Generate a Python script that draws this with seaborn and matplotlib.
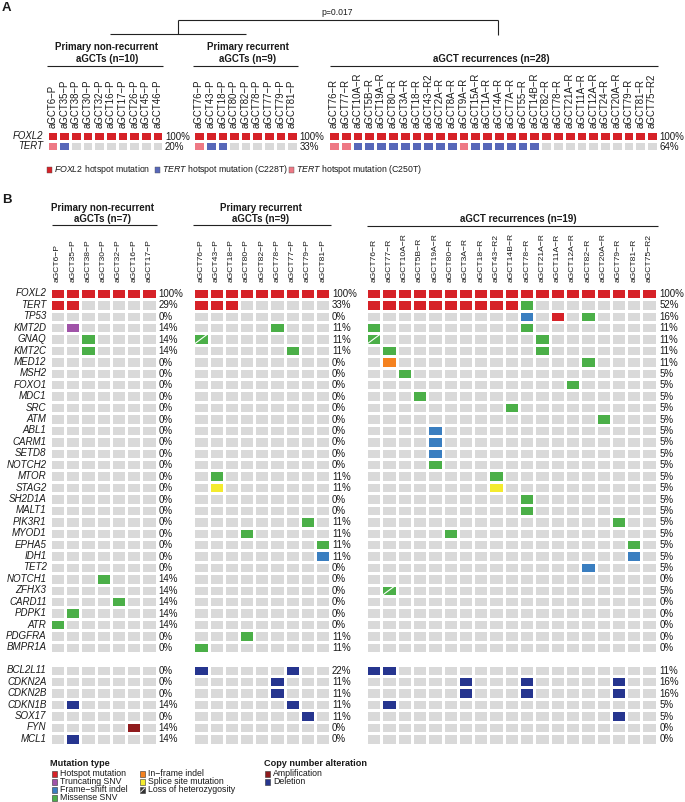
import numpy as np
import pandas as pd
import matplotlib
matplotlib.use('Agg')
import matplotlib.pyplot as plt
from matplotlib.colors import ListedColormap
from matplotlib.patches import Rectangle
import seaborn as sns

W, H = 685, 802

# ---------------- panel A data ----------------
a_genes = ['FOXL2', 'TERT']
a_nonrec_samples = ['aGCT6-P', 'aGCT35-P', 'aGCT38-P', 'aGCT30-P', 'aGCT32-P',
                    'aGCT16-P', 'aGCT17-P', 'aGCT26-P', 'aGCT45-P', 'aGCT46-P']
a_prim_samples = ['aGCT76-P', 'aGCT43-P', 'aGCT18-P', 'aGCT80-P', 'aGCT82-P',
                  'aGCT78-P', 'aGCT77-P', 'aGCT79-P', 'aGCT81-P']
a_rec_samples = ['aGCT76-R', 'aGCT77-R', 'aGCT10A-R', 'aGCT5B-R', 'aGCT19A-R',
                 'aGCT80-R', 'aGCT3A-R', 'aGCT18-R', 'aGCT43-R2', 'aGCT2A-R',
                 'aGCT8A-R', 'aGCT9A-R', 'aGCT15A-R', 'aGCT1A-R', 'aGCT4A-R',
                 'aGCT7A-R', 'aGCT55-R', 'aGCT14B-R', 'aGCT82-R', 'aGCT78-R',
                 'aGCT21A-R', 'aGCT11A-R', 'aGCT12A-R', 'aGCT24-R', 'aGCT20A-R',
                 'aGCT79-R', 'aGCT81-R', 'aGCT75-R2']
# H = hotspot, B = TERT C228T, P = TERT C250T
a_nonrec_calls = {'FOXL2': 'H' * 10, 'TERT': 'PB'}
a_prim_calls = {'FOXL2': 'H' * 9, 'TERT': 'PBB'}
a_rec_calls = {'FOXL2': 'H' * 28, 'TERT': 'PP' + 'B' * 9 + 'P' + 'B' * 6}
a_nonrec_pct = [100, 20]
a_prim_pct = [100, 33]
a_rec_pct = [100, 64]

# ---------------- panel B data ----------------
b_genes = ['FOXL2', 'TERT', 'TP53', 'KMT2D', 'GNAQ', 'KMT2C', 'MED12', 'MSH2',
           'FOXO1', 'MDC1', 'SRC', 'ATM', 'ABL1', 'CARM1', 'SETD8', 'NOTCH2',
           'MTOR', 'STAG2', 'SH2D1A', 'MALT1', 'PIK3R1', 'MYOD1', 'EPHA5', 'IDH1',
           'TET2', 'NOTCH1', 'ZFHX3', 'CARD11', 'PDPK1', 'ATR', 'PDGFRA', 'BMPR1A',
           '',
           'BCL2L11', 'CDKN2A', 'CDKN2B', 'CDKN1B', 'SOX17', 'FYN', 'MCL1']
b_nonrec_samples = ['aGCT6-P', 'aGCT35-P', 'aGCT38-P', 'aGCT30-P', 'aGCT32-P',
                    'aGCT16-P', 'aGCT17-P']
b_prim_samples = a_prim_samples
b_rec_samples = ['aGCT76-R', 'aGCT77-R', 'aGCT10A-R', 'aGCT5B-R', 'aGCT19A-R',
                 'aGCT80-R', 'aGCT3A-R', 'aGCT18-R', 'aGCT43-R2', 'aGCT14B-R',
                 'aGCT78-R', 'aGCT21A-R', 'aGCT11A-R', 'aGCT12A-R', 'aGCT82-R',
                 'aGCT20A-R', 'aGCT79-R', 'aGCT81-R', 'aGCT75-R2']

# T truncating, F frame-shift, M missense, I in-frame, S splice,
# L missense + LOH, A amplification, D deletion   {column: type}
b_nonrec_calls = {
    'FOXL2': 'H' * 7, 'TERT': 'HH',
    'KMT2D': {1: 'T'}, 'GNAQ': {2: 'M'}, 'KMT2C': {2: 'M'},
    'NOTCH1': {3: 'M'}, 'CARD11': {4: 'M'}, 'PDPK1': {1: 'M'}, 'ATR': {0: 'M'},
    'CDKN1B': {1: 'D'}, 'FYN': {5: 'A'}, 'MCL1': {1: 'D'},
}
b_prim_calls = {
    'FOXL2': 'H' * 9, 'TERT': 'HHH',
    'KMT2D': {5: 'M'}, 'GNAQ': {0: 'L'}, 'KMT2C': {6: 'M'},
    'MTOR': {1: 'M'}, 'STAG2': {1: 'S'}, 'PIK3R1': {7: 'M'}, 'MYOD1': {3: 'M'},
    'EPHA5': {8: 'M'}, 'IDH1': {8: 'F'}, 'PDGFRA': {3: 'M'}, 'BMPR1A': {0: 'M'},
    'BCL2L11': {0: 'D', 6: 'D'}, 'CDKN2A': {5: 'D'}, 'CDKN2B': {5: 'D'},
    'CDKN1B': {6: 'D'}, 'SOX17': {7: 'D'},
}
b_rec_calls = {
    'FOXL2': 'H' * 19, 'TERT': 'H' * 10 + 'M',
    'TP53': {10: 'F', 12: 'H', 14: 'M'}, 'KMT2D': {0: 'M', 10: 'M'},
    'GNAQ': {0: 'L', 11: 'M'}, 'KMT2C': {1: 'M', 11: 'M'},
    'MED12': {1: 'I', 14: 'M'}, 'MSH2': {2: 'M'}, 'FOXO1': {13: 'M'},
    'MDC1': {3: 'M'}, 'SRC': {9: 'M'}, 'ATM': {15: 'M'},
    'ABL1': {4: 'F'}, 'CARM1': {4: 'F'}, 'SETD8': {4: 'F'}, 'NOTCH2': {4: 'M'},
    'MTOR': {8: 'M'}, 'STAG2': {8: 'S'}, 'SH2D1A': {10: 'M'}, 'MALT1': {10: 'M'},
    'PIK3R1': {16: 'M'}, 'MYOD1': {5: 'M'}, 'EPHA5': {17: 'M'}, 'IDH1': {17: 'F'},
    'TET2': {14: 'F'}, 'ZFHX3': {1: 'L'},
    'BCL2L11': {0: 'D', 1: 'D'}, 'CDKN2A': {6: 'D', 10: 'D', 16: 'D'},
    'CDKN2B': {6: 'D', 10: 'D', 16: 'D'}, 'CDKN1B': {1: 'D'}, 'SOX17': {16: 'D'},
}
b_nonrec_pct = [100, 29, 0, 14, 14, 14, 0, 0, 0, 0, 0, 0, 0, 0, 0, 0, 0, 0, 0, 0,
                0, 0, 0, 0, 0, 14, 14, 14, 14, 14, 0, 0,
                0, 0, 0, 14, 0, 14, 14]
b_prim_pct = [100, 33, 0, 11, 11, 11, 0, 0, 0, 0, 0, 0, 0, 0, 0, 0, 11, 11, 0, 0,
              11, 11, 11, 11, 0, 0, 0, 0, 0, 0, 11, 11,
              22, 11, 11, 11, 11, 0, 0]
b_rec_pct = [100, 52, 16, 11, 11, 11, 11, 5, 5, 5, 5, 5, 5, 5, 5, 5, 5, 5, 5, 5,
             5, 5, 5, 5, 5, 0, 5, 0, 0, 0, 0, 0,
             11, 16, 16, 5, 5, 0, 0]

# ---------------- style ----------------
codes = {'.': 0, 'H': 1, 'T': 2, 'F': 3, 'M': 4, 'I': 5, 'S': 6, 'A': 7,
         'D': 8, 'B': 9, 'P': 10, 'L': 4}
colors = ['#D9D9D9', '#D62228', '#A053A8', '#3A7EC0', '#4BAF48', '#F58220',
          '#F4EB2E', '#8F1B1D', '#26358F', '#5767B9', '#EE7985']
cmap = ListedColormap(colors)

sns.set_theme(style='white')
plt.rcParams['font.family'] = ['Liberation Sans', 'DejaVu Sans']
plt.rcParams['mathtext.fontset'] = 'custom'
plt.rcParams['mathtext.it'] = 'Liberation Sans:italic'
plt.rcParams['mathtext.rm'] = 'Liberation Sans'
TXT = '#1a1a1a'

fig = plt.figure(figsize=(W / 100, H / 100), dpi=100)


def px_ax(x0, y0, x1, y1):
    return fig.add_axes([x0 / W, 1 - y1 / H, (x1 - x0) / W, (y1 - y0) / H])


def letters_for(calls, genes, n):
    out = []
    for g in genes:
        if g == '':
            out.append([None] * n)
            continue
        c = calls.get(g, '')
        if isinstance(c, dict):
            row = ['.'] * n
            for k, v in c.items():
                row[k] = v
        else:
            row = list(c.ljust(n, '.'))
        out.append(row)
    return out


def draw_block(ax, calls, genes, samples, pct, show_genes, fs_sample, fs_gene,
               pad_x, pad_y, pct_off):
    n = len(samples)
    let = letters_for(calls, genes, n)
    mat = pd.DataFrame([[np.nan if ch is None else codes[ch] for ch in row] for row in let],
                       index=genes, columns=[s.replace('-', '\u2212') for s in samples])
    sns.heatmap(mat, ax=ax, cmap=cmap, vmin=-0.5, vmax=len(colors) - 0.5, cbar=False,
                linewidths=1, linecolor='white', xticklabels=True,
                yticklabels=show_genes)
    ax.set_xlabel('')
    ax.set_ylabel('')
    ax.xaxis.tick_top()
    ax.set_xticklabels(mat.columns, rotation=90, fontsize=fs_sample, color=TXT)
    ax.tick_params(axis='x', length=0, pad=pad_x)
    ax.tick_params(axis='y', length=0, pad=pad_y)
    if show_genes:
        ax.set_yticklabels(genes, rotation=0, fontsize=fs_gene, style='italic', color=TXT)
    # loss of heterozygosity slash
    for r, row in enumerate(let):
        for c, ch in enumerate(row):
            if ch == 'L':
                ax.plot([c + 0.1, c + 0.9], [r + 0.9, r + 0.1], color='white', lw=0.8)
    # percentages
    k = 0
    for r, g in enumerate(genes):
        if g == '':
            continue
        ax.text(n + pct_off, r + 0.55, f'{pct[k]}%', ha='left', va='center',
                fontsize=7, color=TXT, clip_on=False)
        k += 1


# panel A heatmaps
draw_block(px_ax(46.7, 131, 163.3, 151), a_nonrec_calls, a_genes, a_nonrec_samples,
           a_nonrec_pct, True, 6.9, 6.9, 2.5, 2.5, 0.15)
draw_block(px_ax(193.3, 131, 297.7, 151), a_prim_calls, a_genes, a_prim_samples,
           a_prim_pct, False, 6.9, 6.9, 2.5, 2.5, 0.15)
draw_block(px_ax(328, 131, 658, 151), a_rec_calls, a_genes, a_rec_samples,
           a_rec_pct, False, 6.9, 6.9, 2.5, 2.5, 0.15)

# panel B heatmaps
by0, by1 = 287.7, 744.5
draw_block(px_ax(50, by0, 156.7, by1), b_nonrec_calls, b_genes, b_nonrec_samples,
           b_nonrec_pct, True, 6.1, 7, 4, 2.5, 0.1)
draw_block(px_ax(193.3, by0, 330.3, by1), b_prim_calls, b_genes, b_prim_samples,
           b_prim_pct, False, 6.1, 7, 4, 2.5, 0.1)
draw_block(px_ax(366, by0, 656.7, by1), b_rec_calls, b_genes, b_rec_samples,
           b_rec_pct, False, 6.1, 7, 4, 2.5, 0.2)

# ---------------- annotations ----------------
ov = fig.add_axes([0, 0, 1, 1])
ov.set_xlim(0, W)
ov.set_ylim(H, 0)
ov.axis('off')


def hline(x0, x1, y):
    ov.plot([x0, x1], [y, y], color='#222222', lw=0.8, solid_capstyle='butt')


def vline(x, y0, y1):
    ov.plot([x, x], [y0, y1], color='#222222', lw=0.8, solid_capstyle='butt')


def title(x, y, s):
    ov.text(x, y, s, ha='center', va='center', fontsize=7, fontweight='bold', color=TXT)


ov.text(2, 2, 'A', ha='left', va='top', fontsize=9.5, fontweight='bold', color=TXT)
ov.text(2, 194, 'B', ha='left', va='top', fontsize=9.5, fontweight='bold', color=TXT)

# p-value bracket
ov.text(337, 12.5, 'p=0.017', ha='center', va='center', fontsize=6.2, color=TXT)
hline(178, 498, 20)
vline(178, 20, 34)
vline(498, 20, 35)
hline(110, 246, 34)

# panel A titles
title(107, 47, 'Primary non-recurrent')
title(107, 58.5, 'aGCTs (n=10)')
hline(47, 163, 65.5)
title(248, 47, 'Primary recurrent')
title(248, 58.5, 'aGCTs (n=9)')
hline(193, 298, 65.5)
title(491, 59, 'aGCT recurrences (n=28)')
hline(330, 658, 65.5)

# panel B titles
title(103, 208, 'Primary non-recurrent')
title(103, 218.5, 'aGCTs (n=7)')
hline(52, 157, 225)
title(261, 208, 'Primary recurrent')
title(261, 218.5, 'aGCTs (n=9)')
hline(193, 331, 225)
title(518, 219.5, 'aGCT recurrences (n=19)')
hline(367, 658, 226)

# panel A legend
a_legend = [(46.7, colors[1], r'$\it{FOXL2}$ hotspot mutation'),
            (155, colors[9], r'$\it{TERT}$ hotspot mutation (C228T)'),
            (289, colors[10], r'$\it{TERT}$ hotspot mutation (C250T)')]
for x, col, lab in a_legend:
    ov.add_patch(Rectangle((x, 167), 5.5, 5.5, facecolor=col, edgecolor='#555555', lw=0.3))
    ov.text(x + 7, 170, lab, ha='left', va='center', fontsize=6.3, color=TXT)

# panel B legend
ov.text(50, 764, 'Mutation type', ha='left', va='center', fontsize=6.6,
        fontweight='bold', color=TXT)
ov.text(264, 764, 'Copy number alteration', ha='left', va='center', fontsize=6.6,
        fontweight='bold', color=TXT)
b_legend = [(52, 774, colors[1], 'Hotspot mutation'),
            (52, 782, colors[2], 'Truncating SNV'),
            (52, 790, colors[3], 'Frame\u2212shift indel'),
            (52, 798, colors[4], 'Missense SNV'),
            (140, 774, colors[5], 'In\u2212frame indel'),
            (140, 782, colors[6], 'Splice site mutation'),
            (140, 790, '#333333', 'Loss of heterozygosity'),
            (265, 774, colors[7], 'Amplification'),
            (265, 782, colors[8], 'Deletion')]
for x, y, col, lab in b_legend:
    ov.add_patch(Rectangle((x, y - 2.7), 5.4, 5.4, facecolor=col, edgecolor='#333333', lw=0.4))
    if lab.startswith('Loss'):
        ov.plot([x + 0.6, x + 4.8], [y + 2.1, y - 2.1], color='white', lw=0.6)
    ov.text(x + 8, y, lab, ha='left', va='center', fontsize=6.3, color=TXT)

fig.savefig('out.png', dpi=100)
